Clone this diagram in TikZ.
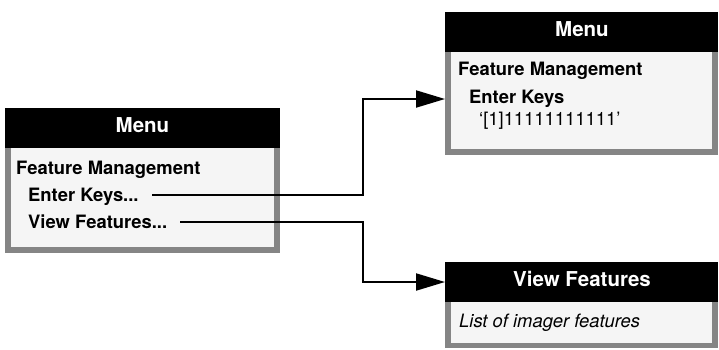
\documentclass[tikz,border=0pt]{standalone}
\usepackage{fontspec}
\setmainfont{TeX Gyre Heros}
\usetikzlibrary{arrows.meta}
\definecolor{bodyfill}{HTML}{F5F5F5}
\definecolor{bordergray}{HTML}{858585}
\tikzset{
  hdr/.style={fill=black},
  bodyouter/.style={fill=bordergray},
  bodyinner/.style={fill=bodyfill},
  hdrtext/.style={text=white, font=\fontsize{20.5}{24}\selectfont\bfseries, inner sep=0pt, anchor=base},
  itemtext/.style={font=\fontsize{18.4}{22}\selectfont\bfseries, inner sep=0pt, anchor=base west},
  plaintext/.style={font=\fontsize{18.4}{22}\selectfont, inner sep=0pt, anchor=base west},
  conn/.style={line width=2pt, -{Triangle[length=29pt,width=17pt]}},
}
\begin{document}
\begin{tikzpicture}[x=1pt,y=-1pt]
\useasboundingbox (0,0) rectangle (719,349);
% left menu box
\fill[hdr] (5,108) rectangle (280,148);
\fill[bodyouter] (5,148) rectangle (280,253);
\fill[bodyinner] (11,148) rectangle (274,247);
\node[hdrtext] (lmenu) at (142.5,132) {Menu};
\node[itemtext] (lfm) at (16,174) {Feature Management};
\node[itemtext] (lek) at (28,201.5) {Enter Keys...};
\node[itemtext] (lvf) at (28,228) {View Features...};
% top right box
\fill[hdr] (445,12) rectangle (718,52);
\fill[bodyouter] (445,52) rectangle (718,155);
\fill[bodyinner] (451,52) rectangle (712,149);
\node[hdrtext] (rmenu) at (582,36) {Menu};
\node[itemtext] (rfm) at (458,75) {Feature Management};
\node[itemtext] (rek) at (469,103) {Enter Keys};
\node[plaintext] (rkey) at (479,125) {‘[1]11111111111’};
% bottom right box
\fill[hdr] (445,262) rectangle (718,302);
\fill[bodyouter] (445,302) rectangle (718,348);
\fill[bodyinner] (451,302) rectangle (712,343);
\node[hdrtext] (vfhdr) at (582,286) {View Features};
\node[plaintext, font=\fontsize{18.4}{22}\selectfont\itshape] (vflist) at (459,327) {List of imager features};
% connectors
\coordinate (ekstart) at (152,195);
\coordinate (vfstart) at (180,222);
\coordinate (t1) at (445,99);
\coordinate (t2) at (445,282);
\draw[conn] (ekstart) -- (363,195) |- (t1);
\draw[conn] (vfstart) -- (363,222) |- (t2);
\end{tikzpicture}
\end{document}
